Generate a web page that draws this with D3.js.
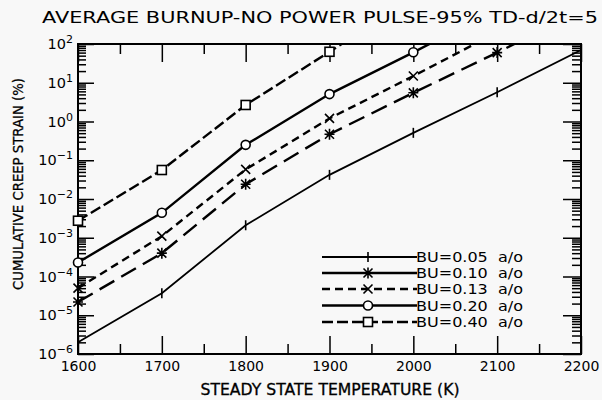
<!DOCTYPE html>
<html><head><meta charset="utf-8">
<script src="https://cdn.jsdelivr.net/npm/d3@7"></script>
<style>body{margin:0;background:#f8f8f8;} svg{display:block;} text{font-family:"DejaVu Sans",sans-serif;fill:#000;}</style>
</head><body><svg id="c" width="602" height="400"></svg>
<script>
const temps = [1600, 1700, 1800, 1900, 2000, 2100, 2200];
const xTickLabels = ["1600","1700","1800","1900","2000","2100","2200"];
const yTickExps = [-6,-5,-4,-3,-2,-1,0,1,2];
const seriesNames = ["BU=0.05\u00a0\u00a0a/o","BU=0.10\u00a0\u00a0a/o","BU=0.13\u00a0\u00a0a/o","BU=0.20\u00a0\u00a0a/o","BU=0.40\u00a0\u00a0a/o"];
const bu005 = [2.0e-6, 3.7e-5, 2.1e-3, 0.042, 0.51, 5.7, 70];
const bu010 = [2.2e-5, 4.0e-4, 0.024, 0.47, 5.5, 60, 730];
const bu013 = [5.0e-5, 1.1e-3, 0.058, 1.2, 14.9, 200, null];
const bu020 = [2.3e-4, 4.4e-3, 0.25, 5.1, 61, 800, null];
const bu040 = [2.75e-3, 0.056, 2.67, 63, 1500, null, null];
const seriesValues = [bu005, bu010, bu013, bu020, bu040];
const title = "AVERAGE BURNUP-NO POWER PULSE-95% TD-d/2t=5";
const xTitle = "STEADY STATE TEMPERATURE (K)";
const yTitle = "CUMULATIVE CREEP STRAIN (%)";

const styles = [
  {dash:null, w:1.8, legDash:null, marker:"plus"},
  {dash:"17,8", w:2.4, legDash:null, marker:"star"},
  {dash:"8,5", w:2.4, legDash:"8,5", marker:"x"},
  {dash:null, w:2.4, legDash:null, marker:"circle"},
  {dash:"11,4", w:2.4, legDash:"11,4", marker:"square"}
];

const svg = d3.select("#c");
const L=78,R=581,T=44,B=354;
const x = d3.scaleLinear().domain([1600,2200]).range([L,R]);
const y = d3.scaleLog().domain([1e-6,1e2]).range([B,T]);

svg.append("defs").append("clipPath").attr("id","clip").append("rect")
  .attr("x",L-8).attr("y",T).attr("width",R-L+8).attr("height",B-T+8);

// title
svg.append("text").attr("x",42).attr("y",23).attr("font-size",15.5)
  .attr("textLength",556).attr("lengthAdjust","spacingAndGlyphs").text(title);

// axes ticks
const minorX = d3.range(1650,2200,100);
const ax = (g,axis)=>{g.call(axis); g.select(".domain").remove(); g.selectAll("line").attr("stroke","#000").attr("stroke-width",1.5);};
svg.append("g").attr("transform",`translate(0,${B})`).call(g=>ax(g,d3.axisBottom(x).tickValues(temps).tickSize(-18).tickFormat((d,i)=>xTickLabels[i]).tickPadding(7)))
  .selectAll("text").attr("font-size",14).attr("font-family","DejaVu Sans").attr("fill","#000");
svg.append("g").attr("transform",`translate(0,${B})`).call(g=>ax(g,d3.axisBottom(x).tickValues(minorX).tickSize(-10).tickFormat("")));
svg.append("g").attr("transform",`translate(0,${T})`).call(g=>ax(g,d3.axisTop(x).tickValues(temps).tickSize(-18).tickFormat("")));
svg.append("g").attr("transform",`translate(0,${T})`).call(g=>ax(g,d3.axisTop(x).tickValues(minorX).tickSize(-10).tickFormat("")));

const majorY = yTickExps.map(e=>Math.pow(10,e));
const minorY = [];
yTickExps.slice(0,-1).forEach(e=>{for(let k=2;k<=9;k++) minorY.push(k*Math.pow(10,e));});
svg.append("g").attr("transform",`translate(${L},0)`).call(g=>ax(g,d3.axisLeft(y).tickValues(majorY).tickSize(-16).tickFormat("")));
svg.append("g").attr("transform",`translate(${L},0)`).call(g=>ax(g,d3.axisLeft(y).tickValues(minorY).tickSize(-8).tickFormat("")));
svg.append("g").attr("transform",`translate(${R},0)`).call(g=>ax(g,d3.axisRight(y).tickValues(majorY).tickSize(-18).tickFormat("")));
svg.append("g").attr("transform",`translate(${R},0)`).call(g=>ax(g,d3.axisRight(y).tickValues(minorY).tickSize(-9).tickFormat("")));

// frame
svg.append("rect").attr("x",L).attr("y",T).attr("width",R-L).attr("height",B-T)
  .attr("fill","none").attr("stroke","#000").attr("stroke-width",2);

// y tick labels
yTickExps.forEach(e=>{
  const t = svg.append("text").attr("x",73).attr("y",y(Math.pow(10,e))+5).attr("text-anchor","end").attr("font-size",14.5);
  t.append("tspan").text("10");
  t.append("tspan").attr("dy",-6).attr("font-size",11).text(e<0?"\u2212"+(-e):String(e));
});

// titles
svg.append("text").attr("x",330).attr("y",395).attr("text-anchor","middle").attr("font-size",15)
  .attr("stroke","#000").attr("stroke-width",0.3)
  .attr("textLength",259).attr("lengthAdjust","spacingAndGlyphs").text(xTitle);
svg.append("text").attr("transform","translate(23,184) rotate(-90)").attr("text-anchor","middle").attr("font-size",14)
  .attr("stroke","#000").attr("stroke-width",0.3)
  .attr("textLength",212).attr("lengthAdjust","spacingAndGlyphs").text(yTitle);

// markers
function marker(g,type,cx,cy){
  const s=4.5;
  if(type==="plus"){g.append("line").attr("x1",cx).attr("x2",cx).attr("y1",cy-5).attr("y2",cy+5);}
  else if(type==="x"){g.append("path").attr("d",`M${cx-s},${cy-s}L${cx+s},${cy+s}M${cx-s},${cy+s}L${cx+s},${cy-s}`);}
  else if(type==="star"){g.append("path").attr("d",`M${cx-s},${cy-s}L${cx+s},${cy+s}M${cx-s},${cy+s}L${cx+s},${cy-s}M${cx},${cy-5.5}L${cx},${cy+5.5}M${cx-5},${cy}L${cx+5},${cy}`);}
  else if(type==="circle"){g.append("circle").attr("cx",cx).attr("cy",cy).attr("r",4.5).attr("fill","#fff");}
  else if(type==="square"){g.append("rect").attr("x",cx-4.5).attr("y",cy-4.5).attr("width",9).attr("height",9).attr("fill","#fff");}
}

const plot = svg.append("g").attr("clip-path","url(#clip)");
const line = d3.line().defined(d=>d[1]!=null).x(d=>x(d[0])).y(d=>y(d[1]));
seriesValues.forEach((vals,i)=>{
  const pts = temps.map((t,j)=>[t,vals[j]]).filter(d=>d[1]!=null);
  plot.append("path").datum(pts).attr("d",line).attr("fill","none").attr("stroke","#000")
    .attr("stroke-width",styles[i].w).attr("stroke-dasharray",styles[i].dash);
  const mg = plot.append("g").attr("stroke","#000").attr("stroke-width",1.6).attr("fill","none");
  pts.forEach(d=>{ if(d[1]<=100) marker(mg,styles[i].marker,x(d[0]),y(d[1])); });
});

// legend
const legY = [257,273,289,305.5,322];
seriesNames.forEach((n,i)=>{
  const g = svg.append("g");
  g.append("line").attr("x1",322).attr("x2",417).attr("y1",legY[i]).attr("y2",legY[i]).attr("stroke","#000")
    .attr("stroke-width",styles[i].w).attr("stroke-dasharray",styles[i].legDash);
  const mg = g.append("g").attr("stroke","#000").attr("stroke-width",1.6).attr("fill","none");
  marker(mg,styles[i].marker,368,legY[i]);
  g.append("text").attr("x",416).attr("y",legY[i]+5).attr("font-size",13.5).attr("textLength",107).attr("lengthAdjust","spacingAndGlyphs").text(n);
});
</script></body></html>
